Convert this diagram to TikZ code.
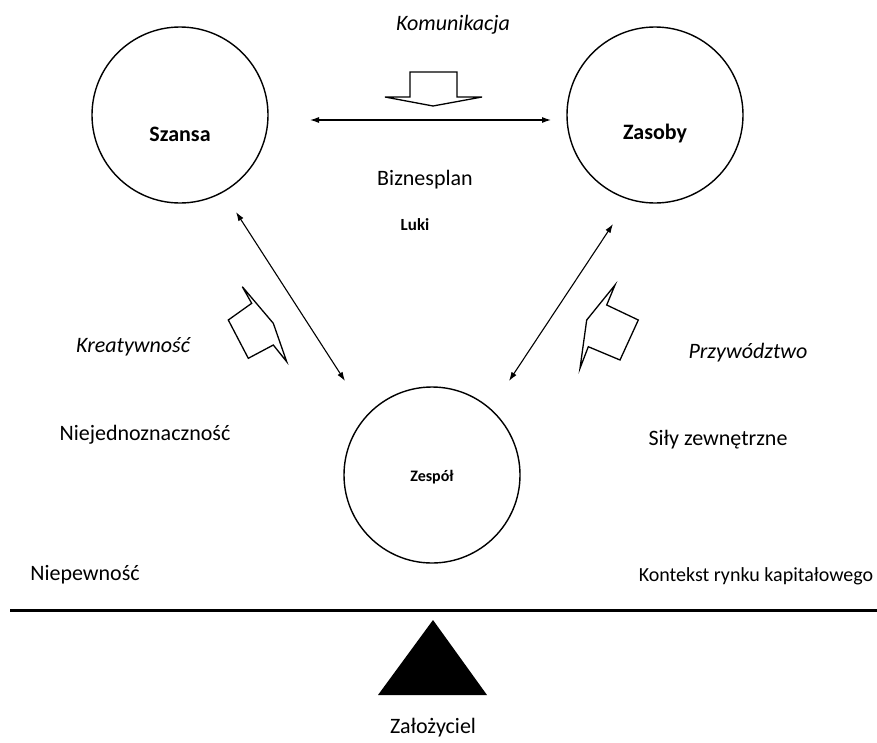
\documentclass[tikz,border=0pt]{standalone}
\usepackage{fontspec}
\setmainfont{Carlito}
\usetikzlibrary{arrows.meta}
\begin{document}
\begin{tikzpicture}[x=1pt,y=-1pt,
  circ/.style={draw,circle,line width=1.4pt,minimum size=176pt,inner sep=0pt},
  lbl/.style={font=\fontsize{22}{24}\selectfont,text=black},
  ilbl/.style={font=\fontsize{22}{24}\selectfont\itshape,text=black},
  conn/.style={line width=1.1pt,{Latex[length=9pt,width=6pt]}-{Latex[length=9pt,width=6pt]}},
  blk/.style={draw,line width=1.3pt,line join=miter,fill=white}]
\useasboundingbox (0,0) rectangle (877,742);
\node[circ] (szansa) at (180,115) {};
\node[circ] (zasoby) at (655,115) {};
\node[circ] (zespol) at (432,475) {};
\node[font=\fontsize{22}{24}\selectfont\bfseries] (tszansa) at (180,134) {Szansa};
\node[font=\fontsize{22}{24}\selectfont\bfseries] (tzasoby) at (655,134) {Zasoby};
\node[font=\fontsize{16}{18}\selectfont\bfseries] (tzespol) at (432,477) {Zespół};
\coordinate (a1) at (310,120); \coordinate (a2) at (551,120);
\draw[conn] (a1) -- (a2);
\coordinate (b1) at (236,212); \coordinate (b2) at (345,381);
\draw[conn] (b1) -- (b2);
\coordinate (c1) at (613,224); \coordinate (c2) at (509,381);
\draw[conn] (c1) -- (c2);
% block arrows
\draw[blk] (410,97) -- (410,72) -- (457,72) -- (457,97) -- (482,97) -- (433,106) -- (385,97) -- cycle;
\draw[blk] (242.3,286.7) -- (251.7,303.3) -- (228.3,320) -- (248.3,358.3) -- (273.3,345) -- (286.7,361.7) -- (273.3,323.3) -- cycle;
\draw[blk] (615,285) -- (606.7,305) -- (638.3,320) -- (620,360) -- (588.3,346.7) -- (580,368.3) -- (586.7,320) -- cycle;
% labels
\node[ilbl] (kom) at (453,25) {Komunikacja};
\node[lbl] (biz) at (425,180) {Biznesplan};
\node[font=\fontsize{17}{19}\selectfont\bfseries] (luki) at (415,225) {Luki};
\node[ilbl] (kre) at (133,347) {Kreatywność};
\node[ilbl] (prz) at (748,353) {Przywództwo};
\node[lbl] (nie) at (145,435) {Niejednoznaczność};
\node[lbl] (sil) at (718,440) {Siły zewnętrzne};
\node[lbl] (niep) at (85,575) {Niepewność};
\node[font=\fontsize{20}{22}\selectfont,text=black] (kon) at (756,576) {Kontekst rynku kapitałowego};
% beam and fulcrum
\coordinate (l1) at (10,610); \coordinate (l2) at (877,610);
\draw[line width=3pt] (l1) -- (l2);
\fill (433,620) -- (487,695) -- (378,695) -- cycle;
\node[lbl] (zal) at (433,728) {Założyciel};
\end{tikzpicture}
\end{document}
